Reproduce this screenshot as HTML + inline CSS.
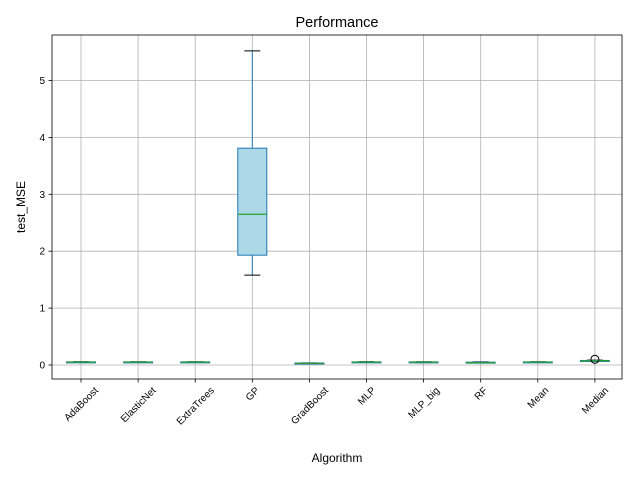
<!DOCTYPE html>
<html><head><meta charset="utf-8"><style>
body{margin:0;background:#fff}
text{font-family:"Liberation Sans","DejaVu Sans",sans-serif;fill:#000}
</style></head><body>
<svg id="c" width="640" height="480" xmlns="http://www.w3.org/2000/svg"></svg>
<script>
const categories=["AdaBoost","ElasticNet","ExtraTrees","GP","GradBoost","MLP","MLP_big","RF","Mean","Median"];
const whiskLo=[0.045,0.045,0.045,1.58,0.025,0.045,0.04,0.035,0.045,0.065];
const q1=[0.047,0.047,0.047,1.93,0.027,0.047,0.045,0.037,0.047,0.068];
const med=[0.05,0.05,0.05,2.65,0.03,0.05,0.05,0.04,0.05,0.075];
const q3=[0.055,0.055,0.055,3.81,0.035,0.055,0.055,0.05,0.055,0.08];
const whiskHi=[0.058,0.058,0.058,5.52,0.038,0.058,0.058,0.055,0.058,0.085];
const fliers=[[],[],[],[],[],[],[],[],[],[0.1]];
const yTicks=[0,1,2,3,4,5];
const L=52,R=622,T=35,B=379;
const y=v=>365-56.9*v;
const x=i=>81+i*57.1;
const s=document.getElementById('c');const NS='http://www.w3.org/2000/svg';
function mk(t,a,p){const e=document.createElementNS(NS,t);for(const k in a)e.setAttribute(k,a[k]);(p||s).appendChild(e);return e;}
yTicks.forEach(v=>{
 const g=mk('line',{x1:L,x2:R,y1:y(v),y2:y(v),stroke:'#b0b0b0','stroke-width':0.8});
 
 
 mk('line',{x1:L-3.5,x2:L,y1:y(v),y2:y(v),stroke:'#000','stroke-width':0.8});
 const t=mk('text',{x:L-7,y:y(v)+3.5,'font-size':10,'text-anchor':'end'});t.textContent=v;
 
 
});
categories.forEach((c,i)=>{
 const g=mk('line',{x1:x(i),x2:x(i),y1:T,y2:B,stroke:'#b0b0b0','stroke-width':0.8});
 
 
 mk('line',{x1:x(i),x2:x(i),y1:B,y2:B+3.5,stroke:'#000','stroke-width':0.8});
 const t=mk('text',{'font-size':10,'text-anchor':'middle'});t.textContent=c;
 const w=t.getComputedTextLength();
 const cy=B+6+(w*0.707+10*0.707)/2;
 t.setAttribute('transform',`translate(${x(i)},${cy}) rotate(-45) translate(0,3.5)`);
 
 
});
categories.forEach((c,i)=>{
 const g=mk('g',{});
 
 
 const cx=x(i),hw=14.5,cw=8;
 mk('line',{x1:cx,x2:cx,y1:y(q3[i]),y2:y(whiskHi[i]),stroke:'#1f77b4','stroke-width':1},g);
 mk('line',{x1:cx,x2:cx,y1:y(q1[i]),y2:y(whiskLo[i]),stroke:'#1f77b4','stroke-width':1},g);
 mk('line',{x1:cx-cw,x2:cx+cw,y1:y(whiskHi[i]),y2:y(whiskHi[i]),stroke:'#000','stroke-width':1},g);
 mk('line',{x1:cx-cw,x2:cx+cw,y1:y(whiskLo[i]),y2:y(whiskLo[i]),stroke:'#000','stroke-width':1},g);
 mk('rect',{x:cx-hw,y:y(q3[i]),width:2*hw,height:Math.max(1,y(q1[i])-y(q3[i])),fill:'#add8e6',stroke:'#1f77b4','stroke-width':1},g);
 mk('line',{x1:cx-hw,x2:cx+hw,y1:y(med[i]),y2:y(med[i]),stroke:'#2ca02c','stroke-width':1.2},g);
 fliers[i].forEach(f=>mk('circle',{cx:cx,cy:y(f),r:4,fill:'none',stroke:'#000'},g));
});
const fr=mk('rect',{x:L,y:T,width:R-L,height:B-T,fill:'none',stroke:'#000','stroke-width':0.8});


const ti=mk('text',{x:337,y:27,'font-size':14.5,'text-anchor':'middle'});ti.textContent='Performance';


const xl=mk('text',{x:337,y:462,'font-size':12,'text-anchor':'middle'});xl.textContent='Algorithm';


const yl=mk('text',{'font-size':12,'text-anchor':'middle',transform:'translate(25,207) rotate(-90)'});yl.textContent='test_MSE';


</script>
</body></html>
